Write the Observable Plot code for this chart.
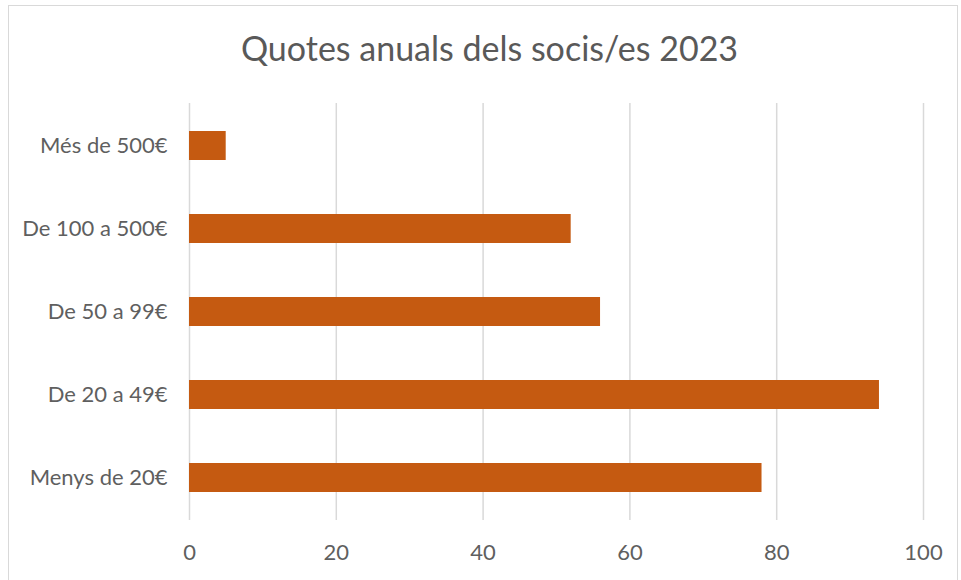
<!DOCTYPE html>
<html>
<head>
<meta charset="utf-8">
<script src="https://cdn.jsdelivr.net/npm/d3@7"></script>
<script src="https://cdn.jsdelivr.net/npm/@observablehq/plot@0.6"></script>
<style>
  html, body { margin: 0; padding: 0; background: #fff; }
  #wrap { position: relative; width: 961px; height: 580px; overflow: hidden; background: #fff; }
  #frame { position: absolute; left: 8px; top: 5px; width: 950px; height: 600px; border: 1.5px solid #d9d9d9; box-sizing: border-box; }
  #title { position: absolute; left: 0; top: 0; width: 961px; height: 90px; text-align: center; font-family: Lato, sans-serif; font-size: 34px; color: #595959; line-height: 96px; padding-left: 18px; box-sizing: border-box; }
  #chart { position: absolute; left: 0; top: 90px; }
</style>
</head>
<body>
<div id="wrap">
  <div id="frame"></div>
  <div id="title">Quotes anuals dels socis/es 2023</div>
  <div id="chart"></div>
</div>
<script>
const categories = ["Més de 500€", "De 100 a 500€", "De 50 a 99€", "De 20 a 49€", "Menys de 20€"];
const values = [5, 52, 56, 94, 78];
const xTicks = [0, 20, 40, 60, 80, 100];

const data = categories.map((c, i) => ({category: c, value: values[i]}));

const chart = Plot.plot({
  width: 961,
  height: 490,
  marginTop: 13,
  marginBottom: 60,
  marginLeft: 189,
  marginRight: 38,
  style: {fontFamily: "Lato, sans-serif", fontSize: "22px", color: "#5f5f5f", background: "transparent"},
  x: {domain: [0, 100], ticks: xTicks, label: null, tickSize: 0, tickPadding: 24},
  y: {domain: categories, label: null, tickSize: 0, tickPadding: 22, paddingInner: 0.65, paddingOuter: 0.325},
  marks: [
    Plot.gridX(xTicks, {stroke: "#d9d9d9", strokeOpacity: 1, strokeWidth: 1.5}),
    Plot.barX(data, {x: "value", y: "category", fill: "#C55A11"})
  ]
});
document.getElementById("chart").appendChild(chart);
</script>
</body>
</html>
